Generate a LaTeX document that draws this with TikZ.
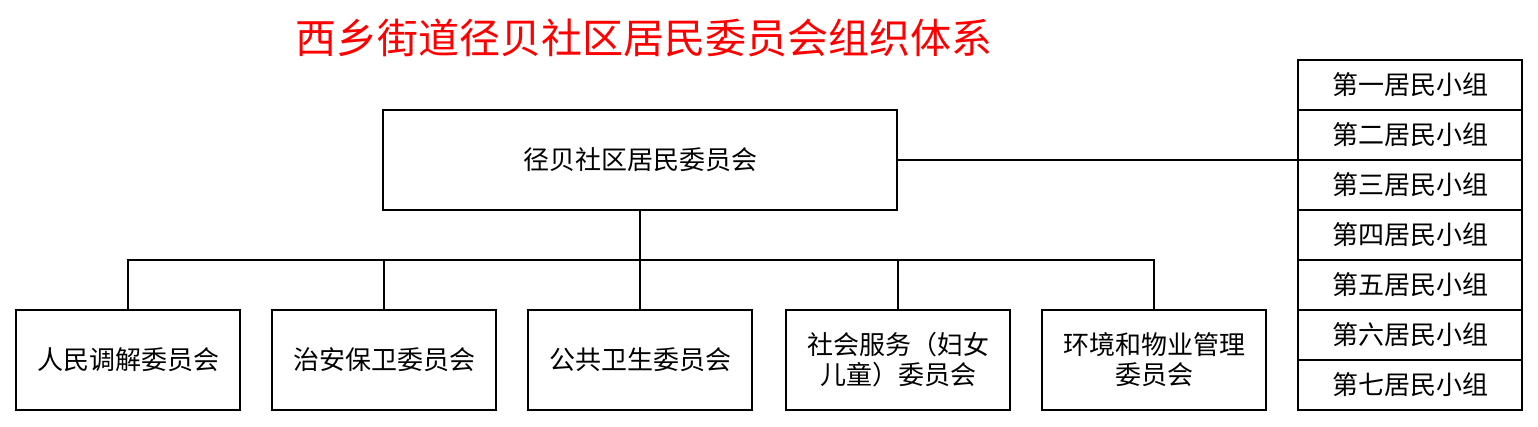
\documentclass[tikz,border=0pt]{standalone}
\usepackage{fontspec}
\newfontfamily\cjk{Noto Sans CJK SC}
\begin{document}
\begin{tikzpicture}[x=1pt,y=-1pt,
  bx/.style={draw,line width=1.5pt,inner sep=0pt,font=\cjk\fontsize{26}{30}\selectfont,align=center},
  ln/.style={line width=1.5pt}]
\useasboundingbox (0,0) rectangle (1538,426);
\node[font=\cjk\fontsize{41}{46}\selectfont,text=red] (t) at (644,38) {西乡街道径贝社区居民委员会组织体系};
\node[bx,minimum width=514pt,minimum height=100pt] (m) at (640,160) {径贝社区居民委员会};
\foreach \n/\x/\t in {a/128/人民调解委员会,b/384/治安保卫委员会,c/640/公共卫生委员会,d/898/社会服务（妇女\\儿童）委员会,e/1154/环境和物业管理\\委员会}
  \node[bx,minimum width=224pt,minimum height=100pt] (\n) at (\x,360) {\t};
\coordinate (j) at (640,260);
\draw[ln] (m.south) -- (j);
\foreach \n in {a,b,c,d,e} \draw[ln] (\n.north) |- (j);
\foreach \i/\t in {1/一,2/二,3/三,4/四,5/五,6/六,7/七}
  \node[bx,minimum width=224pt,minimum height=50pt] (r\i) at (1410,35+50*\i) {第\t 居民小组};
\draw[ln] (m.east) -- (m.east -| r2.west);
\end{tikzpicture}
\end{document}
